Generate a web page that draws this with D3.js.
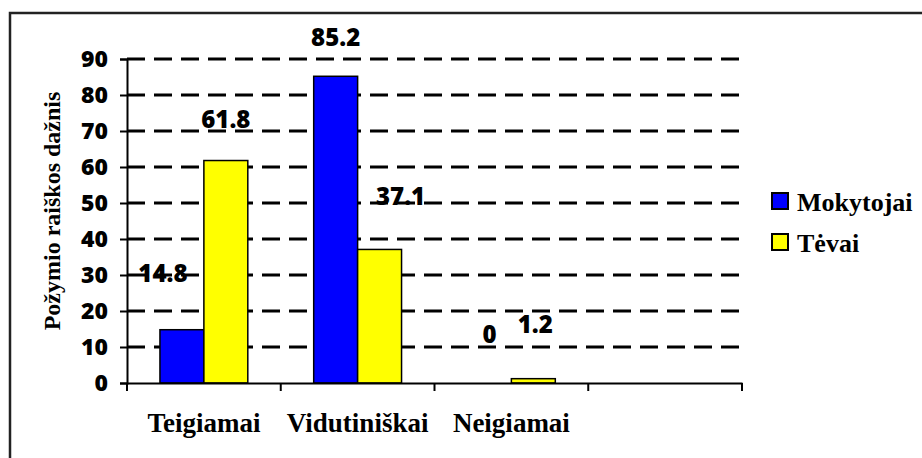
<!DOCTYPE html>
<html>
<head>
<meta charset="utf-8">
<script src="https://cdn.jsdelivr.net/npm/d3@7"></script>
<style>
  body { margin: 0; background: #fff; }
  svg { display: block; }
</style>
</head>
<body>
<div id="chart"></div>
<script>
// data
var categories = ["Teigiamai", "Vidutiniškai", "Neigiamai", ""];
var seriesNames = ["Mokytojai", "Tėvai"];
var mokytojai = [14.8, 85.2, 0];
var tevai = [61.8, 37.1, 1.2];
var yTicks = [0, 10, 20, 30, 40, 50, 60, 70, 80, 90];

var colors = ["#0000ff", "#ffff00"];
// manual label nudges (dx, dy from bar top), same order as the values
var labelNudge = [
  [[-19, -48], [0, -30], [0, -40]],
  [[0, -33], [21, -44], [2, -46]]
];

var width = 922, height = 458;
var plotLeft = 127, plotRight = 742, plotTop = 59, plotBottom = 383;

var svg = d3.select("#chart").append("svg")
    .attr("width", width)
    .attr("height", height);

// outer frame (right and bottom edges fall outside the picture)
svg.append("rect")
    .attr("x", 10).attr("y", 13)
    .attr("width", 930).attr("height", 470)
    .attr("fill", "none")
    .attr("stroke", "#222")
    .attr("stroke-width", 2.5);

var x = d3.scaleBand().domain(categories).range([plotLeft, plotRight]).padding(0);
var xSub = d3.scaleBand().domain(seriesNames).range([0, x.bandwidth()])
    .paddingInner(0).paddingOuter(0.75);
var y = d3.scaleLinear().domain([0, 90]).range([plotBottom, plotTop]);

// dashed gridlines
svg.append("g").selectAll("line")
    .data(yTicks.filter(function(t) { return t > 0; }))
    .enter().append("line")
    .attr("x1", plotLeft).attr("x2", plotRight)
    .attr("y1", function(d) { return y(d); })
    .attr("y2", function(d) { return y(d); })
    .attr("stroke", "#000")
    .attr("stroke-width", 3)
    .attr("stroke-dasharray", "18,9");

// bars
var values = [mokytojai, tevai];
seriesNames.forEach(function(name, s) {
  svg.append("g").selectAll("rect")
    .data(values[s])
    .enter().append("rect")
    .attr("x", function(d, i) { return x(categories[i]) + xSub(name); })
    .attr("y", function(d) { return y(d); })
    .attr("width", xSub.bandwidth())
    .attr("height", function(d) { return plotBottom - y(d); })
    .attr("fill", colors[s])
    .attr("stroke", function(d) { return d > 0 ? "#000" : "none"; })
    .attr("stroke-width", 1.5);
});

// y axis
var yAxis = svg.append("g")
    .attr("transform", "translate(" + plotLeft + ",0)")
    .call(d3.axisLeft(y).tickValues(yTicks).tickSize(7).tickPadding(12));
yAxis.select(".domain").attr("stroke-width", 2);
yAxis.selectAll(".tick line").attr("stroke-width", 2);
yAxis.selectAll("text")
    .attr("font-family", "'Open Sans', sans-serif")
    .attr("font-weight", 800)
    .attr("font-size", "23px")
    .attr("fill", "#000");

// x axis
var xAxis = svg.append("g")
    .attr("transform", "translate(0," + plotBottom + ")")
    .call(d3.axisBottom(x).tickSize(0).tickPadding(30));
xAxis.select(".domain").attr("stroke-width", 2);
xAxis.selectAll("text")
    .attr("font-family", "'Liberation Serif', 'Times New Roman', serif")
    .attr("font-weight", 700)
    .attr("font-size", "27px")
    .attr("fill", "#000");
// boundary ticks between categories
svg.append("g").selectAll("line")
    .data(categories.concat(["end"]))
    .enter().append("line")
    .attr("x1", function(d, i) { return plotLeft + i * x.step(); })
    .attr("x2", function(d, i) { return plotLeft + i * x.step(); })
    .attr("y1", plotBottom).attr("y2", plotBottom + 8)
    .attr("stroke", "#000")
    .attr("stroke-width", 2);

// y axis title
svg.append("text")
    .attr("transform", "translate(60," + 211 + ") rotate(-90)")
    .attr("text-anchor", "middle")
    .attr("font-family", "'Liberation Serif', 'Times New Roman', serif")
    .attr("font-weight", 700)
    .attr("font-size", "24px")
    .text("Požymio raiškos dažnis");

// data labels
seriesNames.forEach(function(name, s) {
  svg.append("g").selectAll("text")
    .data(values[s])
    .enter().append("text")
    .attr("x", function(d, i) {
      return x(categories[i]) + xSub(name) + xSub.bandwidth() / 2 + labelNudge[s][i][0];
    })
    .attr("y", function(d, i) { return y(d) + labelNudge[s][i][1]; })
    .attr("text-anchor", "middle")
    .attr("font-family", "'Open Sans', sans-serif")
    .attr("font-weight", 800)
    .attr("font-size", "24px")
    .text(function(d) { return d; });
});

// legend
var legend = svg.append("g").attr("transform", "translate(772,193)");
seriesNames.forEach(function(name, s) {
  var g = legend.append("g").attr("transform", "translate(0," + s * 41 + ")");
  g.append("rect")
    .attr("width", 16).attr("height", 16)
    .attr("fill", colors[s])
    .attr("stroke", "#000")
    .attr("stroke-width", 2);
  g.append("text")
    .attr("x", 25).attr("y", 18)
    .attr("font-family", "'Liberation Serif', 'Times New Roman', serif")
    .attr("font-weight", 700)
    .attr("font-size", "26px")
    .text(name);
});
</script>
</body>
</html>
